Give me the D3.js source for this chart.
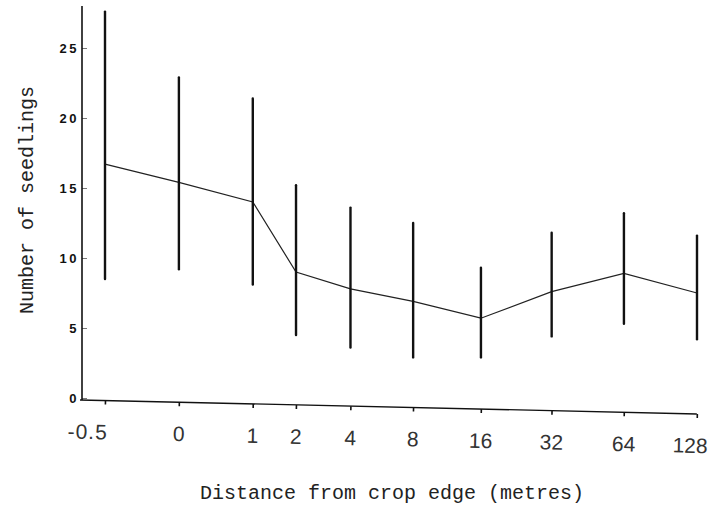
<!DOCTYPE html>
<html>
<head>
<meta charset="utf-8">
<script src="https://cdn.jsdelivr.net/npm/d3@7"></script>
<style>
  html, body { margin: 0; padding: 0; background: #fff; }
  svg { display: block; }
</style>
</head>
<body>
<svg id="chart" width="713" height="513"></svg>
<script>
// ---- data ----
const distances = [-0.5, 0, 1, 2, 4, 8, 16, 32, 64, 128];
const tickLabels = ["-0.5", "0", "1", "2", "4", "8", "16", "32", "64", "128"];
const means = [16.7, 15.4, 14.0, 9.0, 7.8, 6.9, 5.7, 7.6, 8.9, 7.5];
const upper = [27.6, 22.9, 21.4, 15.2, 13.6, 12.5, 9.3, 11.8, 13.2, 11.6];
const lower = [8.5, 9.2, 8.1, 4.5, 3.6, 2.9, 2.9, 4.4, 5.3, 4.2];
const yTicks = [0, 5, 10, 15, 20, 25];

const svg = d3.select("#chart");
const axisX0 = 82;    // y-axis position
const y0 = 398;       // baseline (value 0)

// distance axis is log2(distance + 1)
const x = d3.scaleLog().base(2).domain([0.5, 129]).range([105, 697]);
const y = d3.scaleLinear().domain([0, 28]).range([y0, 6]);

const ink = "#111";

// y axis
const yAxis = d3.axisLeft(y).tickValues(yTicks).tickSizeInner(-5).tickSizeOuter(0).tickPadding(3);
const gy = svg.append("g").attr("transform", `translate(${axisX0},0)`).call(yAxis);
gy.select(".domain").remove();
gy.selectAll(".tick line").attr("stroke", "#777").attr("stroke-width", 1);
gy.selectAll(".tick text")
  .attr("font-family", "Liberation Sans, Arial, sans-serif")
  .attr("font-size", 13).attr("font-weight", "bold")
  .attr("letter-spacing", "2.5px")
  .attr("fill", ink);
svg.append("line")
  .attr("x1", axisX0).attr("x2", axisX0)
  .attr("y1", y(28)).attr("y2", y0 + 2)
  .attr("stroke", ink).attr("stroke-width", 1.6);

// x axis (slightly tilted as in the scanned original)
const gxWrap = svg.append("g")
  .attr("transform", `translate(0,${y0 + 2}) rotate(1.3, ${axisX0 - 2}, 0)`);
gxWrap.append("line")
  .attr("x1", axisX0 - 2).attr("x2", x(129))
  .attr("y1", 0).attr("y2", 0)
  .attr("stroke", ink).attr("stroke-width", 1.3);
const xAxis = d3.axisBottom(x)
  .tickValues(distances.map(d => d + 1))
  .tickFormat((d, i) => tickLabels[i])
  .tickSizeInner(4).tickSizeOuter(0).tickPadding(20);
const gx = gxWrap.append("g").call(xAxis);
gx.select(".domain").remove();
gx.selectAll(".tick line").attr("stroke", ink).attr("stroke-width", 1.6);
gx.selectAll(".tick text")
  .attr("font-family", "Liberation Sans, Arial, sans-serif")
  .attr("font-size", 21)
  .attr("fill", "#333");
gx.selectAll(".tick text").filter((d, i) => i === 0)
  .attr("text-anchor", "end").attr("dx", 3).attr("letter-spacing", "1px");
gx.selectAll(".tick text").filter((d, i) => i === distances.length - 1)
  .attr("text-anchor", "end").attr("dx", 11);

// connecting line through means
const line = d3.line()
  .x((d, i) => x(distances[i] + 1))
  .y(d => y(d));
svg.append("path")
  .datum(means)
  .attr("d", line)
  .attr("fill", "none")
  .attr("stroke", "#222")
  .attr("stroke-width", 1.2);

// error bars
svg.append("g").selectAll("line")
  .data(distances)
  .join("line")
  .attr("x1", d => x(d + 1)).attr("x2", d => x(d + 1))
  .attr("y1", (d, i) => y(upper[i]))
  .attr("y2", (d, i) => y(lower[i]))
  .attr("stroke", ink)
  .attr("stroke-width", 2.4)
  .attr("stroke-linecap", "round");

// axis titles
svg.append("text")
  .attr("x", 392).attr("y", 499)
  .attr("text-anchor", "middle")
  .attr("font-family", "Liberation Mono, Courier New, monospace")
  .attr("font-size", 20)
  .attr("fill", "#222")
  .text("Distance from crop edge (metres)");

svg.append("text")
  .attr("transform", "translate(33,200) rotate(-90)")
  .attr("text-anchor", "middle")
  .attr("font-family", "Liberation Mono, Courier New, monospace")
  .attr("font-size", 20)
  .attr("fill", "#222")
  .text("Number of seedlings");
</script>
</body>
</html>
